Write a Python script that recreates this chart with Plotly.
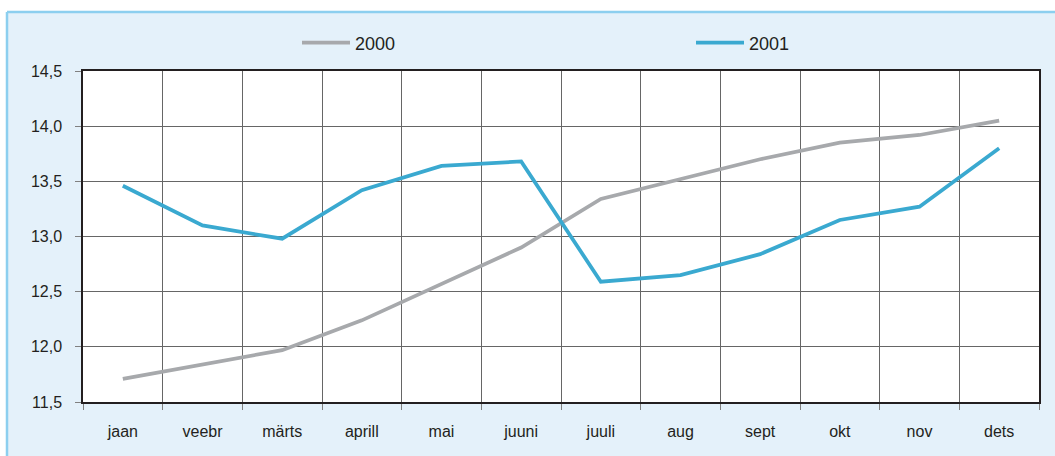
import plotly.graph_objects as go

months = ["jaan", "veebr", "märts", "aprill", "mai", "juuni", "juuli", "aug", "sept", "okt", "nov", "dets"]
y2000 = [11.71, 11.84, 11.97, 12.24, 12.57, 12.90, 13.34, 13.52, 13.70, 13.85, 13.92, 14.05]
y2001 = [13.46, 13.10, 12.98, 13.42, 13.64, 13.68, 12.59, 12.65, 12.84, 13.15, 13.27, 13.80]
y_ticks = [11.5, 12.0, 12.5, 13.0, 13.5, 14.0, 14.5]

W, H = 1055, 456
L, R, T, B = 83, 16, 71, 54
pw, ph = W - L - R, H - T - B

def px_x(x):
    return (x - L) / pw

def px_y(y):
    return (H - B - y) / ph

FONT = "Liberation Sans, Arial, sans-serif"
PANEL = "#E4F1FA"
EDGE = "#8CCFEF"

fig = go.Figure()
fig.add_trace(go.Scatter(x=months, y=y2000, mode="lines", name="2000", showlegend=True,
                         line=dict(color="#A7A9AC", width=3.75), legend="legend"))
fig.add_trace(go.Scatter(x=months, y=y2001, mode="lines", name="2001", showlegend=True,
                         line=dict(color="#3AA9D0", width=3.75), legend="legend2"))

# white strips outside the light-blue panel
fig.add_shape(type="rect", xref="paper", yref="paper", layer="below",
              x0=px_x(-10), x1=px_x(1070), y0=px_y(12), y1=px_y(-10),
              fillcolor="white", line=dict(width=0))
fig.add_shape(type="rect", xref="paper", yref="paper", layer="below",
              x0=px_x(-10), x1=px_x(7), y0=px_y(470), y1=px_y(-10),
              fillcolor="white", line=dict(width=0))
# panel edges
fig.add_shape(type="line", xref="paper", yref="paper", layer="below",
              x0=px_x(7), x1=px_x(1070), y0=px_y(12), y1=px_y(12),
              line=dict(color=EDGE, width=2.5))
fig.add_shape(type="line", xref="paper", yref="paper", layer="below",
              x0=px_x(7), x1=px_x(7), y0=px_y(12), y1=px_y(470),
              line=dict(color=EDGE, width=2.5))

legend_common = dict(orientation="h", yanchor="middle", xanchor="left",
                     bgcolor="rgba(0,0,0,0)", font=dict(family=FONT, size=18, color="#231F20"),
                     itemwidth=48)

fig.update_layout(
    width=W, height=H,
    margin=dict(l=L, r=R, t=T, b=B, autoexpand=False),
    paper_bgcolor=PANEL,
    plot_bgcolor="white",
    separators=", ",
    showlegend=True,
    font=dict(family=FONT, size=16, color="#231F20"),
    legend=dict(x=px_x(297), y=px_y(43), **legend_common),
    legend2=dict(x=px_x(691), y=px_y(43), **legend_common),
    xaxis=dict(
        type="category", tickson="boundaries", automargin=False,
        showgrid=True, gridcolor="#666666", gridwidth=1.2,
        showline=True, linecolor="#231F20", linewidth=1.5, mirror=True,
        ticks="outside", ticklen=6, tickcolor="#808080",
        ticklabelstandoff=14,
        tickfont=dict(family=FONT, size=16, color="#231F20"),
        range=[-0.5, 11.5],
    ),
    yaxis=dict(
        range=[11.5, 14.5], tickvals=y_ticks, tickformat=".1f", automargin=False,
        showgrid=True, gridcolor="#666666", gridwidth=1.2,
        showline=True, linecolor="#231F20", linewidth=1.5, mirror=True,
        ticks="outside", ticklen=6, tickcolor="#808080",
        ticklabelstandoff=10, zeroline=False,
        tickfont=dict(family=FONT, size=16, color="#231F20"),
    ),
)

fig.write_html("out.html", config={"displayModeBar": False},
               post_script="document.body.style.margin='0';document.body.style.overflow='hidden';")
